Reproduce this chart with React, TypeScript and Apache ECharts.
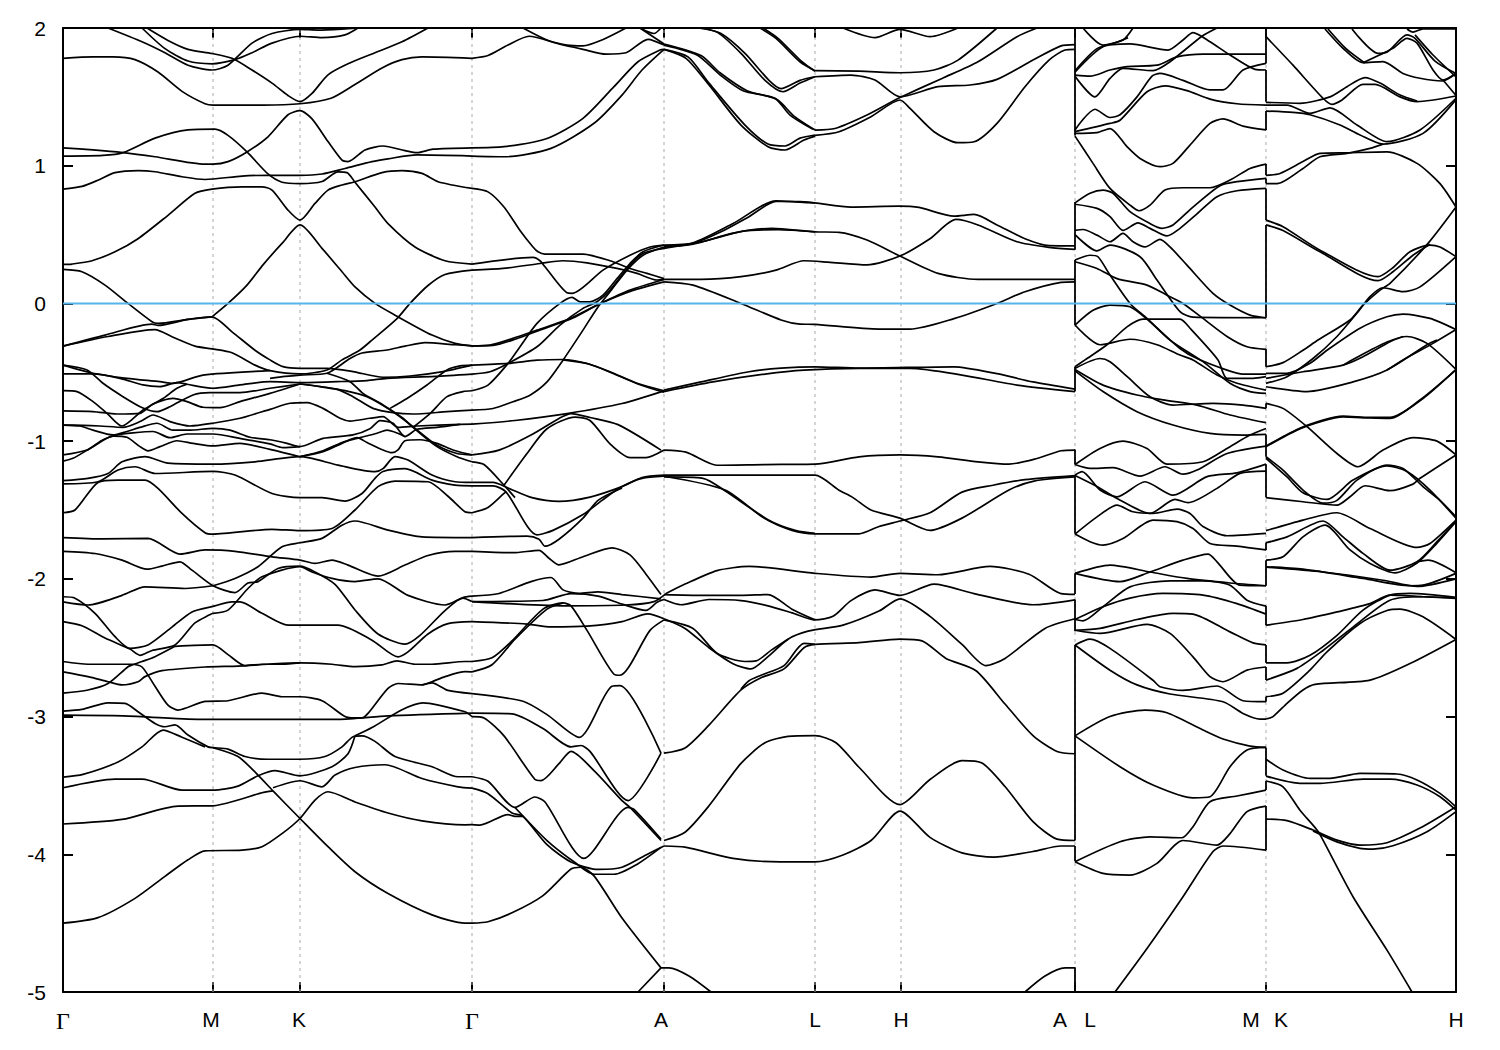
import React, { useEffect, useRef } from "react";
import * as echarts from "echarts";

// x is distance along the k-path (arbitrary units), y is energy in eV. Each band is a flat list: k, E, k, E, ...
const pathTicks = [0, 150, 237, 409, 601, 752, 838, 1012, 1203, 1393];
const labelPositions = [0, 148, 236, 409, 598, 752, 838, 997, 1027, 1188, 1218, 1393];
const labelNames = ["Γ", "M", "K", "Γ", "A", "L", "H", "A", "L", "M", "K", "H"];

const bandsGammaMKGamma: number[][] = [
  [0,1.78,30,1.79,50,1.79,72,1.77,95,1.68,119,1.54,142,1.45,150,1.44,200,1.44,237,1.45,268,1.49,292,1.59,319,1.71,339,1.77,359,1.79,409,1.78],
  [45,2,79,1.9,102,1.82,125,1.73,149,1.695,165,1.73,189,1.89,209,1.96,237,1.99,255,1.985,285,1.995,295,2],
  [79,2,102,1.85,125,1.76,149,1.74,172,1.77,189,1.82,209,1.89,237,1.94,259,1.93,282,1.95,295,2],
  [84,2,105,1.91,125,1.845,149,1.815,169,1.78,189,1.695,209,1.6,225,1.51,237,1.465,249,1.525,265,1.66,285,1.74,312,1.82,339,1.9,365,2],
  [0,1.13,30,1.115,60,1.095,92,1.065,142,1.012,150,1.012,165,1.03,184,1.1,205,1.21,225,1.37,237,1.4,249,1.34,265,1.175,279,1.04,285,1.03,302,1.114,320,1.143,342,1.11,354,1.095,370,1.12,409,1.13],
  [0,1.07,40,1.075,60,1.095,92,1.2,125,1.26,152,1.265,165,1.22,184,1.1,205,0.94,219,0.88,237,0.87,259,0.885,275,0.955,284,0.95,292,0.88,312,0.7,325,0.58,352,0.41,382,0.31,409,0.286],
  [0,0.83,19,0.85,35,0.895,52,0.95,75,0.965,92,0.956,119,0.92,142,0.9,179,0.925,205,0.93,237,0.93,259,0.94,282,0.98,309,1.03,325,1.05,354,1.078,409,1.07],
  [409,0.835,375,0.884,359,0.944,339,0.964,319,0.95,292,0.884,279,0.86,265,0.823,252,0.726,237,0.605,225,0.678,209,0.823,199,0.847,179,0.847,149,0.83,132,0.8,105,0.64,75,0.47,52,0.375,29,0.31,9,0.286,0,0.283],
  [149,-0.097,165,0,184,0.133,200,0.28,219,0.436,237,0.57,259,0.4,279,0.23,292,0.12,312,0,332,-0.085,369,-0.23,392,-0.29,409,-0.308],
  [0,0.247,19,0.23,42,0.133,65,0,89,-0.133,95,-0.145,125,-0.116,149,-0.097,169,-0.206,192,-0.34,207,-0.41,220,-0.459,237,-0.471,264,-0.471,290,-0.495,320,-0.536,347,-0.527,380,-0.495,409,-0.448],
  [0,-0.31,42,-0.23,89,-0.15,95,-0.16,125,-0.116,149,-0.097],
  [0,-0.31,45,-0.24,92,-0.19,109,-0.242,132,-0.31,149,-0.33,169,-0.358,192,-0.448,207,-0.488,237,-0.512,264,-0.483,279,-0.41,297,-0.338,309,-0.266,334,-0.11,347,0,365,0.13,382,0.21,409,0.242],
  [207,-0.544,222,-0.53,237,-0.52,264,-0.507,287,-0.4,299,-0.36,324,-0.338,342,-0.31,362,-0.285,392,-0.3,409,-0.308],
  [0,-0.448,30,-0.507,64,-0.544,97,-0.568,110,-0.58,140,-0.52,207,-0.488],
  [0,-0.448,24,-0.483,40,-0.58,60,-0.677,80,-0.76,94,-0.786,107,-0.75,130,-0.665,147,-0.648,177,-0.648,207,-0.616,237,-0.585],
  [0,-0.512,30,-0.512,57,-0.544,80,-0.592,97,-0.604,114,-0.575,124,-0.587,150,-0.616,177,-0.592,207,-0.568,237,-0.575,274,-0.568,304,-0.56,324,-0.544,372,-0.53,409,-0.513],
  [0,-0.633,14,-0.64,30,-0.713,44,-0.798,59,-0.89,80,-0.774,100,-0.69,114,-0.616,124,-0.587],
  [0,-0.78,30,-0.785,54,-0.803,77,-0.798,90,-0.73,110,-0.69,124,-0.713,140,-0.754,157,-0.757,177,-0.713,207,-0.653,237,-0.585],
  [0,-0.883,20,-0.885,37,-0.89,60,-0.9,77,-0.858,90,-0.81,107,-0.858,127,-0.89,150,-0.87,177,-0.834,207,-0.769,227,-0.725,244,-0.72,260,-0.762,277,-0.834,287,-0.854,307,-0.834,320,-0.822,335,-0.9,354,-0.89,397,-0.878,409,-0.877],
  [0,-0.883,17,-0.89,30,-0.92,50,-0.955,64,-0.93,77,-0.9,94,-0.87,110,-0.92,127,-0.92,150,-0.907,167,-0.92,187,-0.972,207,-0.99,224,-1.016,237,-1.04,260,-0.98,290,-0.955,307,-0.91,317,-0.851,330,-0.87,342,-0.967,354,-0.914,374,-0.9,397,-0.878],
  [0,-1.1,24,-1.064,40,-0.99,54,-0.955,70,-0.94,90,-0.93,107,-0.975,124,-0.948,150,-0.948,177,-0.98,207,-1.02,220,-1.047,237,-1.04],
  [0,-1.145,10,-1.125,30,-1.04,50,-0.963,64,-0.972,77,-1.04,85,-1.07,97,-1.04,114,-0.997,130,-1.016,150,-1.035,177,-1.016,207,-1.06,237,-1.113],
  [237,-1.113,260,-1.076,279,-1.016,294,-0.975,304,-1.01,320,-1.064,329,-1.084,335,-1.064,342,-0.997,357,-0.99,374,-1.016,390,-1.064,409,-1.1],
  [237,-1.113,260,-1.07,279,-1.01,294,-0.98,314,-0.943,324,-0.92,342,-0.967],
  [237,-0.585,257,-0.604,282,-0.633,304,-0.677,330,-0.786,350,-0.895,374,-1.03,394,-1.09,409,-1.1],
  [264,-0.507,287,-0.568,300,-0.653,320,-0.737,340,-0.834,350,-0.9,374,-1.04,394,-1.113,409,-1.15],
  [237,-0.585,274,-0.624,290,-0.677,310,-0.762,330,-0.793,350,-0.803,384,-0.786,409,-0.775],
  [327,-0.762,344,-0.69,364,-0.592,384,-0.483,397,-0.454,409,-0.448],
  [350,-0.9,367,-0.8,384,-0.677,400,-0.64,409,-0.634],
  [0,-1.287,25,-1.27,45,-1.235,59,-1.15,82,-1.113,105,-1.16,150,-1.167,192,-1.15,237,-1.113,275,-1.174,312,-1.222,320,-1.2,332,-1.113,345,-1.137,369,-1.246,392,-1.295,409,-1.3],
  [0,-1.31,35,-1.295,55,-1.21,72,-1.186,92,-1.235,150,-1.22,172,-1.246,209,-1.38,237,-1.41,259,-1.41,282,-1.435,299,-1.38,312,-1.27,320,-1.22,342,-1.2,369,-1.283,392,-1.32,409,-1.325],
  [0,-1.52,12,-1.5,35,-1.3,55,-1.283,82,-1.283,95,-1.343,119,-1.525,142,-1.665,150,-1.675,209,-1.64,237,-1.65,269,-1.634,292,-1.5,315,-1.33,332,-1.29,365,-1.295,385,-1.4,402,-1.513,409,-1.52],
  [0,-1.7,40,-1.71,85,-1.706,117,-1.82,142,-1.79,172,-1.8,209,-1.84,237,-1.864,252,-1.888,269,-1.864,285,-1.9,315,-1.98,342,-1.9,365,-1.83,392,-1.8,409,-1.8],
  [0,-1.8,32,-1.816,59,-1.864,84,-1.93,99,-1.907,117,-1.876,129,-1.937,150,-2.05,172,-2.1,185,-2.03,195,-2.02,215,-1.925,237,-1.908,252,-1.95,272,-2.04,292,-2.226,315,-2.4,342,-2.474,357,-2.41,382,-2.23,400,-2.14,409,-2.165],
  [150,-2.05,172,-1.997,195,-1.912,219,-1.767,237,-1.738,259,-1.706,279,-1.61,292,-1.58,325,-1.646,359,-1.695,409,-1.7],
  [0,-2.13,12,-2.14,32,-2.25,52,-2.42,67,-2.505,85,-2.48,109,-2.35,129,-2.24,150,-2.2,169,-2.167,177,-2.167,199,-2.25,225,-2.336,237,-2.336,275,-2.336,309,-2.445,335,-2.566,345,-2.53,365,-2.4,385,-2.325,409,-2.31],
  [0,-2.167,25,-2.19,59,-2.12,82,-2.058,122,-2.07,150,-2.05],
  [150,-2.25,165,-2.227,185,-2.07,199,-1.985,237,-1.912,249,-1.95,269,-1.997,292,-2.02,315,-2,345,-2.12,382,-2.19,400,-2.135,409,-2.125],
  [0,-2.31,19,-2.34,42,-2.43,67,-2.51,77,-2.555,89,-2.52,112,-2.48,132,-2.32,150,-2.25],
  [112,-2.49,150,-2.48,165,-2.55,182,-2.63,199,-2.62,219,-2.62,237,-2.61],
  [0,-2.6,25,-2.62,69,-2.62,79,-2.64,92,-2.78,105,-2.917,115,-2.953,142,-2.89,165,-2.885,199,-2.83,219,-2.856,237,-2.856,259,-2.885,282,-3,292,-3.01,299,-3.01,305,-2.977,325,-2.795,335,-2.76,359,-2.77,369,-2.747,382,-2.71,402,-2.674,409,-2.675],
  [359,-2.77,369,-2.755,385,-2.81,409,-2.833],
  [0,-2.675,25,-2.71,45,-2.747,59,-2.77,75,-2.747,82,-2.71,99,-2.667,142,-2.64,175,-2.633,205,-2.62,237,-2.61,269,-2.62,292,-2.638,319,-2.625,334,-2.595,352,-2.62,369,-2.62,402,-2.6,409,-2.6],
  [0,-2.83,25,-2.807,45,-2.76,65,-2.638,69,-2.626,79,-2.6,92,-2.565,112,-2.49],
  [0,-2.96,19,-2.948,45,-2.9,62,-2.904,75,-2.965,92,-3.05,102,-3.074,112,-3.06,125,-3.134,145,-3.22,150,-3.226,165,-3.236,182,-3.29,205,-3.31,237,-3.31,262,-3.29,279,-3.22,290,-3.146,299,-3.14,312,-3.18,332,-3.29,369,-3.364,395,-3.437,409,-3.437],
  [0,-2.99,60,-2.995,125,-3.018,150,-3.02,275,-3.02,325,-2.995,409,-2.975],
  [409,-3,402,-2.965,360,-2.9,339,-2.95,309,-3.08,292,-3.14],
  [150,-3.226,175,-3.29,195,-3.425,210,-3.54,237,-3.74,265,-3.945,292,-4.127,325,-4.285,369,-4.44,402,-4.5,409,-4.5],
  [0,-4.5,35,-4.46,72,-4.32,102,-4.16,125,-4.04,142,-3.975,179,-3.97,199,-3.945,219,-3.85,237,-3.74,252,-3.606,265,-3.546,292,-3.62,325,-3.7,359,-3.757,402,-3.786,409,-3.785],
  [0,-3.78,59,-3.747,115,-3.65,150,-3.648,175,-3.606,199,-3.553,210,-3.54],
  [0,-3.517,52,-3.454,79,-3.454,119,-3.534,150,-3.534,175,-3.505,195,-3.43,212,-3.393,237,-3.43,269,-3.364,285,-3.27,292,-3.14],
  [210,-3.517,237,-3.466,259,-3.51,272,-3.425,292,-3.37,322,-3.35,359,-3.45,395,-3.51,409,-3.52],
  [0,-3.44,20,-3.42,55,-3.33,79,-3.22,100,-3.098,119,-3.15,142,-3.22],
];

const bandsGammaA: number[][] = [
  [460,2,484,1.913,504,1.876,520,1.87,539,1.913,563,2],
  [409,1.78,425,1.8,445,1.876,466,1.94,496,1.884,520,1.845,543,1.81,563,1.82,585,1.918,601,1.876],
  [577,2,591,1.96,598,2],
  [577,2,601,1.884],
  [409,1.13,441,1.138,484,1.198,520,1.344,551,1.574,575,1.755,597,1.84,601,1.845],
  [409,1.07,441,1.065,488,1.126,531,1.308,559,1.513,579,1.695,601,1.845],
  [409,0.286,470,0.334,477,0.31,482,0.266,504,0.077,509,0.073,540,0.242,567,0.35,587,0.41,601,0.424],
  [409,0.242,440,0.254,477,0.29,500,0.31,524,0.295,554,0.254,574,0.218,594,0.17,601,0.174],
  [409,0.835,425,0.81,441,0.7,457,0.53,470,0.41,475,0.375,482,0.358,520,0.358,547,0.31,567,0.254,584,0.218,601,0.18],
  [409,-0.308,427,-0.303,450,-0.254,474,-0.194,507,-0.11,534,-0.012,567,0.097,601,0.174],
  [409,-0.308,430,-0.305,453,-0.258,478,-0.19,510,-0.105,537,-0.002,570,0.095,601,0.157],
  [409,-0.513,427,-0.496,445,-0.436,474,-0.315,497,-0.157,520,-0.036,534,0.012,547,0.097,567,0.278,580,0.363,601,0.4],
  [409,-0.634,425,-0.593,445,-0.436,457,-0.315,474,-0.145,497,0,509,0.044,517,0.012,527,0.012,540,0.06,554,0.18,567,0.29,580,0.375,601,0.424],
  [409,-0.775,430,-0.763,450,-0.714,467,-0.666,484,-0.57,500,-0.412,520,-0.194,534,-0.036,547,0.085,564,0.242,580,0.35,601,0.41],
  [409,-0.448,445,-0.436,474,-0.412,500,-0.407,524,-0.436,547,-0.496,574,-0.58,601,-0.634],
  [500,-0.41,526,-0.44,549,-0.505,577,-0.59,601,-0.645],
  [409,-0.877,452,-0.85,504,-0.8,559,-0.727,601,-0.635],
  [409,-1.1,436,-1.065,468,-0.956,496,-0.835,508,-0.8,527,-0.828,555,-0.88,598,-1.065],
  [409,-1.15,421,-1.17,441,-1.32,452,-1.41],
  [441,-1.32,464,-1.09,484,-0.91,512,-0.825,527,-0.85,547,-1.02,567,-1.12,583,-1.12,601,-1.065],
  [409,-1.3,430,-1.3,445,-1.34,469,-1.41,496,-1.437,527,-1.406,559,-1.33,579,-1.264,601,-1.247],
  [409,-1.325,430,-1.325,443,-1.368,474,-1.68,490,-1.648,520,-1.533,539,-1.43,559,-1.33,579,-1.27,601,-1.255],
  [409,-1.52,425,-1.482,441,-1.38,443,-1.368],
  [409,-1.7,464,-1.69,476,-1.712,482,-1.763,496,-1.712,520,-1.559,535,-1.43,559,-1.34],
  [409,-1.8,450,-1.81,476,-1.793,486,-1.85,496,-1.898,520,-1.839,549,-1.775,567,-1.826,583,-1.966,598,-2.114],
  [409,-2.125,436,-2.106,468,-2.02,488,-1.99,500,-2.08,516,-2.105,535,-2.094,559,-2.114,598,-2.145],
  [409,-2.165,480,-2.157,508,-2.107,535,-2.125,559,-2.183,583,-2.229,594,-2.17,601,-2.15],
  [409,-2.165,500,-2.196,563,-2.19,591,-2.165,603,-2.107],
  [409,-2.31,464,-2.328,488,-2.349,524,-2.343,559,-2.31,585,-2.254,601,-2.29],
  [409,-2.6,429,-2.573,449,-2.45,480,-2.22,500,-2.175,508,-2.196,524,-2.374,551,-2.693,557,-2.7,587,-2.374,601,-2.298],
  [409,-2.675,429,-2.624,452,-2.438,484,-2.22,500,-2.175],
  [409,-2.833,460,-2.889,484,-2.986,516,-3.151,549,-2.78,557,-2.776,598,-3.266],
  [409,-2.975,449,-2.98,480,-3.087,508,-3.22,518,-3.21,527,-3.253,565,-3.61,598,-3.266],
  [409,-3,421,-3.01,441,-3.14,472,-3.457,478,-3.465,496,-3.342,508,-3.253,531,-3.393,559,-3.61,567,-3.66,598,-3.9],
  [409,-3.437,425,-3.47,452,-3.66,472,-3.584,482,-3.62,521,-4.03,565,-3.66,571,-3.674,598,-3.89],
  [409,-3.52,425,-3.56,449,-3.7,460,-3.724,484,-3.93,508,-4.056,535,-4.11,559,-4.094,583,-4.005,601,-3.94],
  [452,-3.66,484,-3.9,512,-4.06,531,-4.145,551,-4.145,575,-4.068,598,-3.95],
  [409,-3.785,417,-3.788,445,-3.712,452,-3.724,460,-3.724],
  [409,-4.5,425,-4.49,449,-4.425,480,-4.3,508,-4.107,518,-4.094,531,-4.157,559,-4.463,598,-4.825],
  [575,-5,598,-4.825],
];

const bandsALHA: number[][] = [
  [601,1.845,623,1.78,646,1.586,678,1.295,705,1.138,722,1.114,741,1.186,752,1.215],
  [601,1.845,625,1.79,646,1.6,682,1.295,705,1.157,722,1.143,737,1.2,752,1.223],
  [601,1.876,634,1.804,657,1.66,680,1.545,712,1.489,727,1.368,750,1.264],
  [601,1.884,638,1.8,657,1.675,684,1.545,714,1.48,731,1.36,752,1.259],
  [634,2,654,1.97,678,1.816,702,1.62,720,1.537,737,1.6,752,1.646],
  [638,2,658,1.96,682,1.816,706,1.62,718,1.56,737,1.62,752,1.646],
  [697,2,713,1.925,737,1.755,752,1.69],
  [700,2,715,1.925,739,1.755,752,1.685],
  [752,1.69,796,1.687,837,1.675,871,1.695,895,1.767,934,2],
  [752,1.646,788,1.658,812,1.622,837,1.5,875,1.574,907,1.586,934,1.627,970,1.767,998,1.87,1012,1.88],
  [752,1.259,772,1.27,804,1.368,832,1.477,837,1.496,879,1.634,915,1.755,954,1.937,974,2],
  [752,1.22,776,1.247,808,1.356,837,1.477,847,1.416,871,1.247,895,1.167,911,1.174,934,1.308,962,1.574,986,1.767,1002,1.84,1012,1.845],
  [780,2,812,1.93,837,1.99,867,1.937,895,2],
  [601,0.41,630,0.436,658,0.52,686,0.63,713,0.74,737,0.74,752,0.73,788,0.7,836,0.707,856,0.697,891,0.634,911,0.646,934,0.57,962,0.47,986,0.42,1012,0.418],
  [601,0.424,630,0.44,670,0.58,713,0.745,737,0.735,752,0.73],
  [601,0.41,630,0.43,670,0.51,709,0.545,752,0.52,776,0.516,804,0.46,837,0.344,875,0.218,915,0.174,1012,0.174],
  [601,0.4,640,0.45,680,0.525,715,0.535,752,0.52],
  [601,0.174,638,0.174,678,0.194,713,0.242,741,0.31,765,0.3,804,0.28,837,0.344,867,0.47,893,0.61,915,0.57,954,0.448,986,0.407,1012,0.392],
  [601,0.157,630,0.133,678,0,718,-0.12,737,-0.15,752,-0.152,816,-0.186,847,-0.186,891,-0.11,934,0,962,0.085,998,0.153,1012,0.157],
  [601,-0.63,638,-0.57,686,-0.496,718,-0.47,752,-0.46,796,-0.47,891,-0.46,934,-0.51,970,-0.57,1012,-0.622],
  [601,-0.64,650,-0.57,702,-0.513,741,-0.484,796,-0.472,847,-0.472,899,-0.52,954,-0.593,1012,-0.64],
  [601,-1.065,623,-1.08,654,-1.175,702,-1.17,752,-1.167,796,-1.114,837,-1.1,875,-1.114,915,-1.15,946,-1.167,974,-1.126,998,-1.07,1012,-1.065],
  [601,-1.247,752,-1.247,776,-1.356,790,-1.41,808,-1.5,837,-1.559,867,-1.648,899,-1.559,946,-1.355,971,-1.29,1012,-1.26],
  [601,-1.255,662,-1.355,701,-1.559,729,-1.648,752,-1.673,796,-1.673,816,-1.62,837,-1.58,867,-1.52,899,-1.37,930,-1.32,962,-1.28,1012,-1.25],
  [601,-1.26,640,-1.27,662,-1.36,705,-1.57,733,-1.65,752,-1.67],
  [603,-2.107,622,-2.038,654,-1.94,686,-1.91,752,-1.96,808,-1.987,837,-1.96,875,-1.97,927,-1.91,966,-1.966,998,-2.107,1012,-2.112],
  [601,-2.114,640,-2.12,678,-2.12,705,-2.114,729,-2.22,752,-2.298],
  [601,-2.15,618,-2.188,646,-2.15,678,-2.158,705,-2.196,729,-2.247,752,-2.298,770,-2.272,788,-2.158,812,-2.08,837,-2.12,871,-2.038,911,-2.107,970,-2.188,1012,-2.152],
  [601,-2.29,622,-2.36,646,-2.5,670,-2.616,688,-2.654,705,-2.565,725,-2.438,745,-2.38,780,-2.336,816,-2.234,837,-2.145,867,-2.272,899,-2.476,923,-2.63,942,-2.578,982,-2.36,1012,-2.29],
  [601,-2.298,630,-2.36,654,-2.54,682,-2.6,693,-2.596,709,-2.514,725,-2.438],
  [601,-3.266,622,-3.228,646,-3.062,678,-2.807,698,-2.718,721,-2.654,741,-2.5,752,-2.476,796,-2.463,837,-2.438,859,-2.45,883,-2.578,913,-2.667,942,-2.909,970,-3.138,994,-3.253,1012,-3.27],
  [678,-2.8,686,-2.74,698,-2.7,721,-2.63,741,-2.468,752,-2.476],
  [601,-3.9,622,-3.84,646,-3.648,678,-3.34,702,-3.19,725,-3.144,752,-3.138,773,-3.19,796,-3.368,837,-3.64,867,-3.457,899,-3.32,919,-3.337,942,-3.508,970,-3.763,994,-3.89,1012,-3.9],
  [601,-3.94,622,-3.948,670,-4.03,717,-4.055,752,-4.055,780,-4.005,808,-3.9,837,-3.686,867,-3.877,899,-3.99,931,-4.02,970,-3.98,998,-3.94,1012,-3.94],
  [598,-4.825,606,-4.825,626,-4.884,648,-5],
  [962,-5,982,-4.884,1002,-4.825,1012,-4.825],
];

const bandsLM: number[][] = [
  [1012,1.68,1040,1.864,1067,1.884,1105,1.84,1120,1.913,1130,1.966,1147,1.9,1167,1.804,1192,1.7,1203,1.695],
  [1012,1.69,1034,1.85,1060,1.913,1070,2],
  [1012,1.658,1027,1.65,1047,1.695,1064,1.72,1094,1.73,1114,1.79,1140,1.81,1203,1.81],
  [1012,1.65,1032,1.5,1047,1.634,1060,1.707,1090,1.69,1107,1.755,1139,1.94,1154,2],
  [1020,2,1040,1.876,1055,1.9,1065,1.93],
  [1012,1.26,1032,1.41,1047,1.35,1057,1.37,1074,1.5,1089,1.65,1097,1.67,1120,1.62,1147,1.55,1160,1.55,1180,1.695,1203,1.743],
  [1012,1.247,1047,1.307,1057,1.33,1084,1.537,1102,1.58,1124,1.545,1147,1.484,1174,1.45,1203,1.44],
  [1012,1.235,1034,1.24,1047,1.27,1064,1.138,1077,1.053,1097,0.993,1110,1.017,1127,1.15,1147,1.307,1160,1.34,1180,1.288,1203,1.26],
  [1012,1.215,1030,1.017,1047,0.835,1067,0.714,1076,0.673,1087,0.714,1102,0.823,1120,0.84,1147,0.84,1167,0.896,1187,0.98,1203,1.012],
  [1012,0.73,1027,0.8,1040,0.823,1050,0.8,1067,0.666,1087,0.58,1099,0.545,1110,0.57,1130,0.7,1157,0.855,1174,0.884,1203,0.908],
  [1012,0.72,1034,0.69,1047,0.63,1060,0.53,1075,0.585,1087,0.545,1104,0.49,1117,0.545,1134,0.65,1154,0.775,1174,0.818,1203,0.835],
  [1012,0.53,1020,0.537,1034,0.496,1047,0.448,1060,0.508,1070,0.448,1082,0.41,1097,0.465,1107,0.41,1124,0.278,1150,0.073,1167,-0.012,1187,-0.085,1203,-0.104],
  [1012,0.5,1034,0.382,1047,0.424,1077,0.339,1094,0.17,1117,-0.06,1130,-0.1,1203,-0.104],
  [1012,0.315,1027,0.35,1035,0.339,1047,0.206,1067,0,1084,-0.109,1107,-0.266,1140,-0.423,1167,-0.58,1187,-0.64,1203,-0.653],
  [1012,0.303,1034,0.254,1054,0.18,1084,0.133,1104,0.06,1120,0,1140,-0.109,1164,-0.24,1184,-0.315,1203,-0.334],
  [1012,-0.157,1030,-0.05,1047,-0.012,1067,-0.024,1087,-0.133,1117,-0.327,1134,-0.4,1164,-0.484,1180,-0.513,1203,-0.513],
  [1012,-0.157,1037,-0.3,1067,-0.26,1094,-0.3,1117,-0.375,1130,-0.41,1154,-0.52,1174,-0.58,1203,-0.63],
  [1012,-0.46,1022,-0.41,1044,-0.3,1064,-0.17,1080,-0.114,1117,-0.114,1127,-0.18,1155,-0.41,1164,-0.544,1190,-0.544,1203,-0.532],
  [1012,-0.472,1037,-0.4,1047,-0.423,1064,-0.53,1087,-0.678,1110,-0.738,1150,-0.726,1180,-0.738,1203,-0.762],
  [1012,-0.48,1040,-0.593,1074,-0.665,1100,-0.7,1134,-0.738,1167,-0.81,1203,-0.866],
  [1012,-0.49,1040,-0.64,1074,-0.786,1110,-0.883,1147,-0.944,1180,-0.956,1203,-0.951],
  [1012,-1.17,1037,-1.053,1060,-1,1084,-1.053,1104,-1.167,1140,-1.15,1164,-1.053,1187,-0.956,1203,-0.908],
  [1012,-1.17,1027,-1.198,1050,-1.193,1077,-1.254,1102,-1.186,1120,-1.24,1134,-1.21,1164,-1.09,1203,-1.036],
  [1012,-1.247,1019,-1.222,1037,-1.355,1054,-1.404,1082,-1.295,1110,-1.392,1144,-1.258,1174,-1.23,1203,-1.167],
  [1012,-1.25,1034,-1.33,1054,-1.416,1087,-1.525,1112,-1.423,1125,-1.447,1154,-1.343,1177,-1.234,1203,-1.217],
  [1012,-1.675,1034,-1.55,1054,-1.465,1070,-1.513,1090,-1.525,1114,-1.494,1127,-1.525,1140,-1.62,1164,-1.687,1203,-1.67],
  [1012,-1.675,1027,-1.73,1040,-1.755,1060,-1.707,1090,-1.573,1114,-1.585,1130,-1.634,1147,-1.743,1174,-1.762,1203,-1.79],
  [1012,-1.96,1047,-1.9,1087,-1.95,1124,-1.997,1167,-2.03,1203,-2.05],
  [1012,-1.96,1057,-2.02,1087,-1.95,1120,-1.864,1145,-1.82,1154,-1.876,1177,-2.046,1203,-2.05],
  [1012,-2.295,1020,-2.305,1040,-2.203,1067,-2.058,1107,-2.014,1140,-2.014,1167,-2.046,1184,-2.155,1203,-2.198],
  [1012,-2.295,1040,-2.203,1067,-2.14,1100,-2.106,1140,-2.118,1174,-2.18,1203,-2.256],
  [1012,-2.373,1037,-2.36,1074,-2.295,1110,-2.25,1130,-2.256,1167,-2.385,1190,-2.465,1203,-2.48],
  [1012,-2.373,1037,-2.396,1084,-2.33,1107,-2.396,1130,-2.566,1147,-2.71,1160,-2.747,1184,-2.663,1203,-2.64],
  [1012,-2.48,1027,-2.438,1047,-2.505,1090,-2.736,1097,-2.783,1120,-2.81,1154,-2.778,1180,-2.885,1203,-2.892],
  [1012,-2.48,1047,-2.663,1074,-2.77,1107,-2.836,1160,-2.892,1180,-2.977,1197,-3.018,1203,-3.018],
  [1012,-3.14,1047,-3,1082,-2.953,1104,-2.972,1140,-3.098,1160,-3.163,1187,-3.214,1203,-3.224],
  [1012,-3.14,1057,-3.364,1090,-3.497,1130,-3.59,1147,-3.582,1167,-3.364,1184,-3.243,1203,-3.224],
  [1012,-4.054,1057,-3.909,1087,-3.873,1119,-3.88,1130,-3.8,1147,-3.618,1174,-3.577,1203,-3.534],
  [1012,-4.054,1040,-4.139,1067,-4.151,1094,-4.066,1120,-3.9,1154,-3.933,1167,-3.85,1184,-3.69,1203,-3.65],
  [1052,-5,1084,-4.684,1120,-4.308,1150,-3.98,1160,-3.94,1203,-3.97],
];

const bandsKH: number[][] = [
  [1203,1.937,1230,1.73,1260,1.49,1269,1.446,1279,1.477,1300,1.59,1312,1.59,1337,1.5,1354,1.465,1393,1.506],
  [1203,1.46,1237,1.453,1267,1.5,1284,1.574,1302,1.64,1317,1.6,1337,1.513,1354,1.47],
  [1203,1.44,1224,1.44,1247,1.38,1267,1.42,1294,1.296,1324,1.175,1357,1.26,1393,1.49],
  [1203,1.397,1230,1.387,1247,1.37,1277,1.296,1297,1.223,1320,1.157,1360,1.235,1393,1.48],
  [1203,0.93,1217,0.944,1240,1.03,1257,1.09,1284,1.094,1324,1.1,1354,1.017,1377,0.87,1393,0.7],
  [1203,0.87,1214,0.87,1240,0.98,1257,1.065,1284,1.09,1307,1.126,1320,1.157],
  [1203,0.605,1220,0.557,1257,0.387,1315,0.194,1329,0.254,1347,0.375,1367,0.424,1377,0.41,1393,0.34],
  [1203,0.57,1220,0.53,1257,0.375,1315,0.165,1330,0.23,1350,0.35,1367,0.43],
  [1393,0.7,1365,0.436,1327,0.145,1317,0.097,1300,-0.012,1287,-0.12,1255,-0.266,1240,-0.34,1220,-0.43,1203,-0.46],
  [1393,0.34,1357,0.12,1340,0.085,1320,0.114,1307,0.05,1294,-0.07,1274,-0.24,1250,-0.4,1224,-0.532,1203,-0.58],
  [1393,-0.19,1367,-0.109,1340,-0.078,1324,-0.097,1297,-0.18,1264,-0.34,1247,-0.435,1224,-0.508,1203,-0.508],
  [1393,-0.19,1370,-0.29,1340,-0.41,1324,-0.484],
  [1203,-0.544,1240,-0.496,1280,-0.448,1300,-0.387,1327,-0.278,1340,-0.24],
  [1203,-0.605,1244,-0.64,1290,-0.57,1324,-0.484,1364,-0.3,1374,-0.266],
  [1280,-0.448,1289,-0.41,1324,-0.28,1344,-0.24,1364,-0.29,1393,-0.479],
  [1393,-0.479,1360,-0.69,1327,-0.828,1307,-0.828,1280,-0.818,1260,-0.847,1234,-0.915,1203,-1.036],
  [1393,-0.482,1358,-0.695,1327,-0.835,1307,-0.832,1280,-0.824,1260,-0.853,1234,-0.92,1203,-1.04],
  [1203,-0.726,1220,-0.762,1244,-0.895,1274,-1.09,1295,-1.186,1320,-1.065,1350,-0.975,1374,-1,1393,-1.1],
  [1393,-1.1,1357,-1.27,1350,-1.312,1327,-1.36,1302,-1.324,1287,-1.404,1274,-1.465,1240,-1.44,1203,-1.41],
  [1203,-1.113,1220,-1.21,1240,-1.355,1260,-1.45,1274,-1.43,1294,-1.283,1324,-1.174,1340,-1.198,1360,-1.33,1377,-1.43,1393,-1.55],
  [1203,-1.125,1224,-1.26,1240,-1.375,1264,-1.423,1290,-1.283,1324,-1.18,1344,-1.22,1367,-1.355,1393,-1.56],
  [1203,-1.65,1240,-1.573,1274,-1.52,1307,-1.634,1354,-1.772,1367,-1.743,1393,-1.573],
  [1203,-1.738,1224,-1.695,1260,-1.58,1280,-1.695,1300,-1.815,1327,-1.937,1354,-1.876,1374,-1.73,1393,-1.58],
  [1203,-1.864,1220,-1.84,1240,-1.695,1262,-1.61,1287,-1.79,1307,-1.888,1332,-1.956,1354,-1.885,1374,-1.74,1393,-1.585],
  [1203,-1.912,1240,-1.93,1300,-1.997,1347,-2.05,1360,-2.046,1393,-1.96],
  [1203,-1.915,1260,-1.95,1320,-2.01,1354,-2.055,1393,-2],
  [1354,-1.876,1365,-1.864,1393,-1.956],
  [1203,-2.336,1240,-2.295,1274,-2.24,1307,-2.18,1327,-2.118,1360,-2.13,1393,-2.142],
  [1203,-2.61,1224,-2.61,1247,-2.555,1274,-2.41,1300,-2.227,1327,-2.118,1347,-2.106,1393,-2.135],
  [1203,-2.735,1234,-2.65,1260,-2.52,1290,-2.35,1327,-2.155,1360,-2.13,1393,-2.138],
  [1203,-2.856,1220,-2.83,1247,-2.662,1264,-2.53,1297,-2.324,1324,-2.23,1337,-2.22,1360,-2.276,1393,-2.44],
  [1203,-3.018,1210,-3,1224,-2.904,1240,-2.807,1252,-2.766,1307,-2.735,1347,-2.615,1393,-2.44],
  [1203,-3.31,1220,-3.388,1247,-3.449,1267,-3.449,1297,-3.413,1334,-3.417,1354,-3.46,1377,-3.558,1393,-3.655],
  [1203,-3.432,1237,-3.485,1257,-3.485,1300,-3.454,1327,-3.454,1354,-3.497,1377,-3.582,1393,-3.68],
  [1203,-3.468,1220,-3.51,1237,-3.68,1254,-3.824,1260,-3.897,1290,-4.308,1324,-4.696,1349,-5],
  [1203,-3.744,1224,-3.756,1250,-3.824,1274,-3.897,1297,-3.933,1324,-3.916,1357,-3.81,1393,-3.655],
  [1250,-3.83,1274,-3.91,1297,-3.957,1310,-3.962,1330,-3.938,1364,-3.836,1393,-3.69],
  [1262,1.993,1280,1.853,1300,1.748,1320,1.756,1340,1.67,1357,1.635,1379,1.615,1393,1.67],
  [1265,1.993,1283,1.85,1302,1.745],
  [1289,1.993,1315,1.816,1325,1.83,1344,1.95,1352,1.925,1372,1.76,1393,1.67],
  [1300,1.748,1330,1.853,1344,1.925,1354,1.89,1370,1.695,1380,1.622,1393,1.67],
  [1352,1.95,1370,1.804,1393,1.645],
  [1380,1.622,1393,1.51],
  [1344,1.993,1350,1.97,1360,1.993,1393,1.993],
];

// Discontinuities where the path jumps (A|L and M|K): lower and upper energy of each vertical run
const jumpsAL: number[][] = [[1.22,2],[0.39,0.737],[-0.157,0.315],[-0.64,-0.46],[-1.17,-1.06],[-1.67,-1.25],[-2.11,-1.96],[-2.38,-2.15],[-3.9,-2.48],[-4.05,-3.94],[-5,-4.82]];
const jumpsMK: number[][] = [[1.743,2],[1.465,1.695],[1.26,1.397],[0.93,1.012],[0.87,0.908],[0.605,0.835],[-0.104,0.57],[-0.46,-0.33],[-0.762,-0.726],[-1.036,-0.951],[-1.113,-1.036],[-1.41,-1.167],[-1.79,-1.738],[-2.05,-1.864],[-2.336,-2.198],[-2.61,-2.48],[-2.735,-2.64],[-2.892,-2.856],[-3.43,-3.224],[-3.534,-3.468],[-3.97,-3.65]];

const allBands = [...bandsGammaMKGamma, ...bandsGammaA, ...bandsALHA, ...bandsLM, ...bandsKH];

function toPairs(flat: number[]) {
  const out: number[][] = [];
  for (let i = 0; i < flat.length; i += 2) out.push([flat[i], flat[i + 1]]);
  return out;
}

export default function App() {
  const ref = useRef<HTMLDivElement>(null);
  useEffect(() => {
    const chart = echarts.init(ref.current!, undefined, { renderer: "svg" });
    const font = { fontFamily: "Liberation Sans", fontSize: 21, color: "#000" };
    const xBase = {
      type: "value" as const,
      min: 0,
      max: 1393,
      splitLine: { show: false },
      axisLine: { show: true, onZero: false, lineStyle: { color: "#000", width: 2 } },
      axisTick: { show: true, inside: true, length: 10, customValues: pathTicks, lineStyle: { color: "#000", width: 2 } },
    };
    const yBase = {
      type: "value" as const,
      min: -5,
      max: 2,
      interval: 1,
      splitLine: { show: false },
      axisLine: { show: true, onZero: false, lineStyle: { color: "#000", width: 2 } },
      axisTick: { show: true, inside: true, length: 10, lineStyle: { color: "#000", width: 2 } },
    };
    const guides = pathTicks.slice(1, -1).map((k) => ({
      type: "line" as const,
      silent: true,
      symbol: "none",
      z: 1,
      data: [[k, -5], [k, 2]],
      lineStyle: { color: "#aaa", width: 1, type: [3, 4] as any },
    }));
    const bandSeries = allBands.map((b) => ({
      type: "line" as const,
      silent: true,
      symbol: "none",
      smooth: 0.25,
      z: 3,
      data: toPairs(b),
      lineStyle: { color: "#000", width: 1.7 },
    }));
    const jumpSeries = [
      ...jumpsAL.map((j) => ({ k: 1012, j })),
      ...jumpsMK.map((j) => ({ k: 1203, j })),
    ].map(({ k, j }) => ({
      type: "line" as const,
      silent: true,
      symbol: "none",
      z: 3,
      data: [[k, j[0]], [k, j[1]]],
      lineStyle: { color: "#000", width: 1.8 },
    }));
    chart.setOption({
      animation: false,
      backgroundColor: "#fff",
      grid: { left: 63, top: 28, width: 1393, height: 964, containLabel: false },
      xAxis: [
        {
          ...xBase,
          position: "bottom",
          axisLabel: {
            ...font,
            margin: 17,
            showMinLabel: true,
            showMaxLabel: true,
            hideOverlap: false,
            customValues: labelPositions,
            formatter: (v: number) => {
              const i = labelPositions.indexOf(v);
              const name = labelNames[i] ?? "";
              return name === "Γ" ? "{g|Γ}" : name;
            },
            rich: { g: { fontFamily: "Liberation Serif", fontSize: 24, color: "#000" } },
          },
        },
        { ...xBase, position: "top", axisLabel: { show: false } },
      ],
      yAxis: [
        { ...yBase, position: "left", axisLabel: { ...font, margin: 17 } },
        { ...yBase, position: "right", axisLabel: { show: false } },
      ],
      series: [
        ...guides,
        ...bandSeries,
        ...jumpSeries,
        {
          type: "line",
          silent: true,
          symbol: "none",
          z: 4,
          data: [[0, 0], [1393, 0]],
          lineStyle: { color: "#56b4e9", width: 2 },
        },
      ],
    });
    return () => chart.dispose();
  }, []);
  return <div ref={ref} style={{ position: "absolute", left: 0, top: 0, width: 1500, height: 1050 }} />;
}
